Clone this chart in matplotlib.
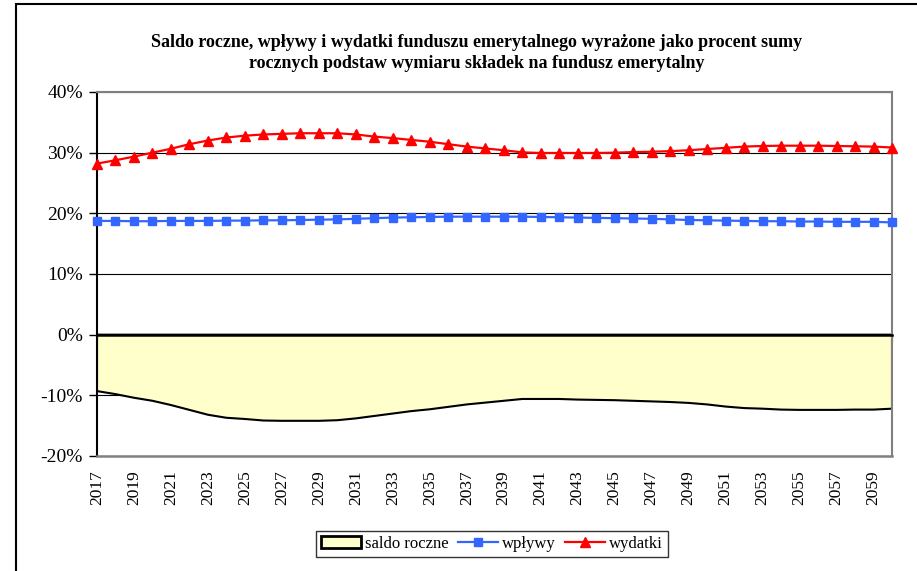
import matplotlib
matplotlib.use("Agg")
import matplotlib.pyplot as plt
from matplotlib.patches import Patch, Rectangle
from matplotlib.lines import Line2D

plt.rcParams['font.family'] = ['Liberation Serif', 'DejaVu Serif']

# Data (values in %)
years = list(range(2017, 2061))
wplywy = [18.75, 18.75, 18.7, 18.7, 18.75, 18.75, 18.75, 18.8, 18.8, 18.85,
          18.85, 18.9, 18.95, 19.0, 19.1, 19.2, 19.3, 19.35, 19.4, 19.45,
          19.45, 19.45, 19.45, 19.45, 19.4, 19.35, 19.3, 19.25, 19.2, 19.15,
          19.1, 19.0, 18.9, 18.85, 18.8, 18.75, 18.7, 18.7, 18.65, 18.65,
          18.6, 18.6, 18.6, 18.5]
wydatki = [28.2, 28.75, 29.35, 30.0, 30.65, 31.4, 32.0, 32.5, 32.8, 33.0,
           33.1, 33.2, 33.2, 33.2, 33.0, 32.65, 32.4, 32.1, 31.8, 31.4,
           31.0, 30.7, 30.4, 30.05, 29.95, 29.95, 29.95, 29.95, 30.0, 30.1,
           30.15, 30.25, 30.4, 30.6, 30.8, 31.0, 31.1, 31.15, 31.15, 31.15,
           31.1, 31.05, 31.0, 30.85]
saldo = [-9.3, -9.8, -10.4, -10.9, -11.6, -12.4, -13.2, -13.7, -13.9, -14.15,
         -14.2, -14.2, -14.2, -14.1, -13.8, -13.4, -13.0, -12.6, -12.3, -11.9,
         -11.5, -11.2, -10.9, -10.6, -10.6, -10.6, -10.7, -10.75, -10.8, -10.9,
         -11.0, -11.1, -11.25, -11.5, -11.85, -12.1, -12.2, -12.35, -12.4, -12.4,
         -12.4, -12.35, -12.35, -12.2]
y_ticks = [-20, -10, 0, 10, 20, 30, 40]
y_labels = ['-20%', '-10%', '0%', '10%', '20%', '30%', '40%']
title = ("Saldo roczne, wpływy i wydatki funduszu emerytalnego wyrażone jako procent sumy\n"
         "rocznych podstaw wymiaru składek na fundusz emerytalny")

fig = plt.figure(figsize=(9.17, 5.71), dpi=100)
ax = fig.add_axes([97 / 917, 1 - 456 / 571, 795 / 917, 364 / 571])

# saldo area (polygon down to zero)
ax.fill(years + [years[-1], years[0]], saldo + [0, 0],
        facecolor='#FFFFCC', edgecolor='black', lw=1.5, zorder=2)

ax.plot(years, wplywy, color='#3366FF', lw=1.6, marker='s', markersize=5.5,
        zorder=4, clip_on=False)
ax.plot(years, wydatki, color='#FF0000', lw=1.6, marker='^', markersize=6.5,
        zorder=4, clip_on=False)

ax.set_xlim(years[0], years[-1])
ax.set_ylim(-20, 40)
ax.set_yticks(y_ticks)
ax.set_yticklabels(y_labels, fontsize=14)
ax.grid(axis='y', color='black', lw=0.8)
ax.set_axisbelow(True)

# category axis crossing at zero, ticks every year, no labels
ax.spines['bottom'].set_position(('data', 0))
ax.spines['bottom'].set_linewidth(1.8)
ax.spines['bottom'].set_zorder(3)
ax.set_xticks(years)
ax.tick_params(axis='x', direction='out', length=5, width=0.8, labelbottom=False)
ax.tick_params(axis='y', direction='out', length=6, width=1, pad=4)
ax.spines['left'].set_linewidth(1.5)
for s in ['top', 'right']:
    ax.spines[s].set_color('#808080')
    ax.spines[s].set_linewidth(1.5)
# bottom frame of plot area
ax.axhline(-20, color='#808080', lw=1.8, zorder=3, clip_on=False)

# year labels along bottom of plot area
sec = ax.secondary_xaxis('bottom')
sec.set_xticks(years[::2])
sec.set_xticklabels([str(y) for y in years[::2]], rotation=90, fontsize=12.5)
sec.tick_params(length=0, pad=10)
sec.spines['bottom'].set_visible(False)

fig.text(477 / 917, 1 - 53 / 571, title, ha='center', va='center',
         fontsize=13, fontweight='bold', linespacing=1.35)

handles = [Patch(facecolor='#FFFFCC', edgecolor='black', lw=2),
           Line2D([], [], color='#3366FF', lw=1.6, marker='s', markersize=5.5),
           Line2D([], [], color='#FF0000', lw=1.6, marker='^', markersize=6.5)]
leg = fig.legend(handles, ['saldo roczne', 'wpływy', 'wydatki'], ncol=3,
                 loc='center', bbox_to_anchor=(492 / 917, 1 - 544 / 571),
                 fontsize=12, frameon=True, fancybox=False, edgecolor='black',
                 handlelength=2.4, handletextpad=0.2, columnspacing=0.6,
                 borderpad=0.3)
leg.get_frame().set_linewidth(1)

# outer chart border (left and top visible)
fig.add_artist(Rectangle((16 / 917, -0.1), 1.2, 1.1 - 4 / 571,
                         transform=fig.transFigure, fill=False,
                         edgecolor='black', lw=1.5))

fig.savefig('out.png', dpi=100)
